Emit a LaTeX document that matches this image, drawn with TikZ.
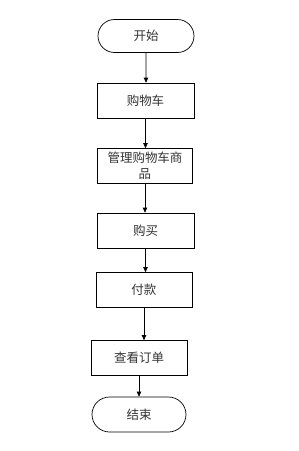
\documentclass[tikz,border=0pt]{standalone}
\usepackage{fontspec}
\usepackage{tikz}
\usetikzlibrary{arrows.meta,shapes.misc}
\newfontfamily\cjk{Noto Sans CJK SC}

\begin{document}
\begin{tikzpicture}[x=1pt,y=-1pt,
    every node/.style={font=\cjk\fontsize{12.5}{16}\selectfont, text=black!80, line width=0.7pt, inner sep=1pt},
    stepbox/.style={draw, rectangle, minimum height=35pt, align=center},
    term/.style={draw, rounded rectangle, minimum height=33pt},
    flow/.style={line width=0.7pt, -{Triangle[length=5pt,width=4.5pt]}}]
    \useasboundingbox (0,0) rectangle (298,451);

    \node[term, minimum width=98pt] (start) at (146,36) {开始};
    \node[stepbox, minimum width=97pt] (cart) at (145.5,100.5) {购物车};
    \node[stepbox, minimum width=95pt] (manage) at (145,166) {管理购物车商\\品};
    \node[stepbox, minimum width=97pt] (buy) at (145.5,230.5) {购买};
    \node[stepbox, minimum width=96pt] (pay) at (144,290) {付款};
    \node[stepbox, minimum width=96pt] (order) at (139,358) {查看订单};
    \node[term, minimum width=96pt, minimum height=35pt] (end) at (139,414.5) {结束};

    \foreach \a/\b in {start/cart, cart/manage, manage/buy, buy/pay, pay/order, order/end} {
      \draw[flow] (\a) -- (\a |- \b.north);
    }
  \end{tikzpicture}
\end{document}
